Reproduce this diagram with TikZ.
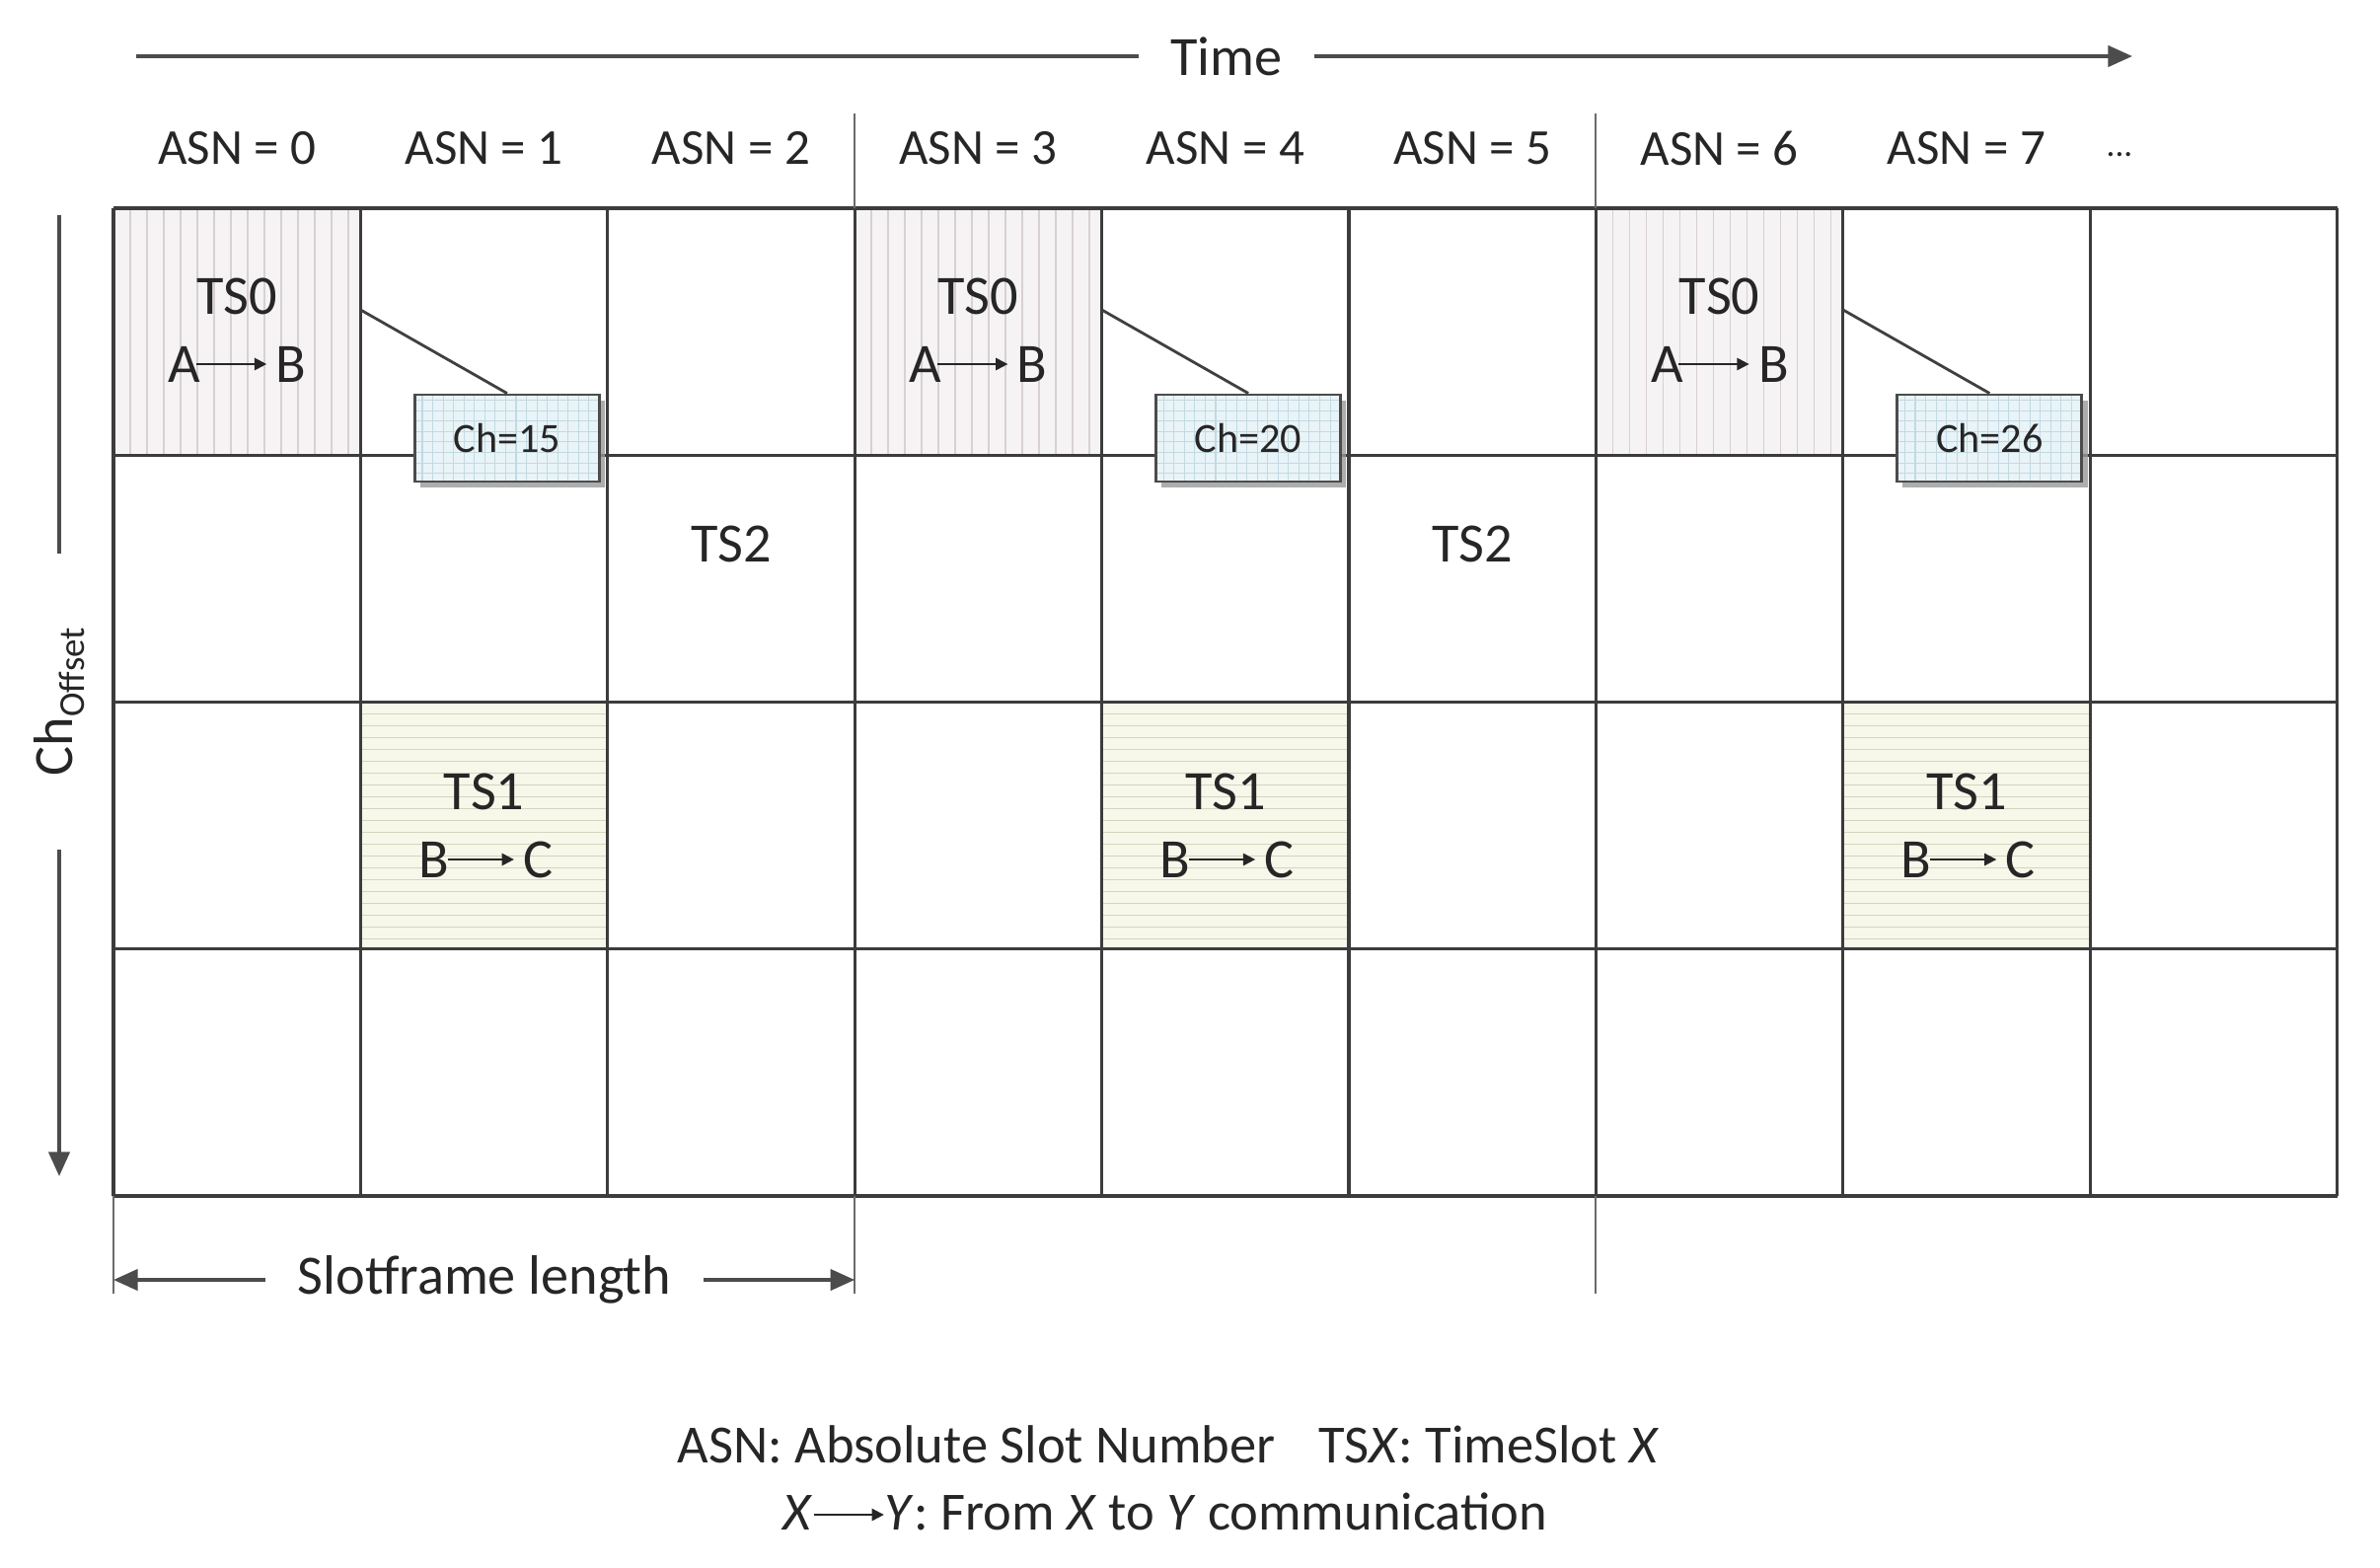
\documentclass[tikz,border=0pt]{standalone}
\usepackage{fontspec}
\setmainfont{Carlito}
\usetikzlibrary{arrows.meta,shadows,calc}
\definecolor{gridcol}{HTML}{3C3C3C}
\definecolor{sepcol}{HTML}{6A6A6A}
\definecolor{tszfill}{HTML}{F6F3F4}
\definecolor{tszline}{HTML}{D8D0D3}
\definecolor{tsofill}{HTML}{F7F7EA}
\definecolor{tsoline}{HTML}{D2D6BE}
\definecolor{chfill}{HTML}{E9F4F8}
\definecolor{chline}{HTML}{C3D9E2}
\newcommand{\legarr}{\tikz[baseline=-0.6ex]\draw[line width=0.6pt,-{Triangle[length=3.5pt,width=3.5pt]}] (0,0) -- (1.3em,0);}
\begin{document}
\begin{tikzpicture}[x=0.01cm,y=-0.01cm,
  gridline/.style={draw=gridcol, line width=0.9pt},
  sepline/.style={draw=sepcol, line width=0.6pt},
  axisline/.style={draw=black!70, line width=1.1pt},
  axisarrow/.style={axisline, -{Triangle[length=7pt,width=6pt]}},
  smallarr/.style={draw=black!85, line width=0.6pt, -{Triangle[length=3.5pt,width=3.5pt]}},
  asnlabel/.style={font=\fontsize{14.5}{17}\selectfont, text=black!85},
  biglabel/.style={font=\fontsize{16}{19}\selectfont, text=black!85},
  letter/.style={biglabel, inner sep=1pt},
  leglabel/.style={font=\fontsize{15.5}{19}\selectfont, text=black!85},
  tszero/.style={fill=tszfill, path picture={
      \foreach \k in {1,...,14}
        \draw[tszline, line width=0.5pt]
          ($(path picture bounding box.north west)+(\k*17,0)$) --
          ($(path picture bounding box.south west)+(\k*17,0)$);}},
  tsone/.style={fill=tsofill, path picture={
      \foreach \k in {1,...,20}
        \draw[tsoline, line width=0.5pt]
          ($(path picture bounding box.north west)+(0,\k*12)$) --
          ($(path picture bounding box.north east)+(0,\k*12)$);}},
  chbox/.style={draw=black!70, line width=0.8pt, fill=chfill,
      minimum width=1.87cm, minimum height=0.88cm, inner sep=0pt,
      font=\fontsize{12}{14}\selectfont, text=black!85,
      drop shadow={shadow xshift=1.6pt, shadow yshift=-1.6pt, fill=black!40, opacity=0.8},
      path picture={\draw[chline, line width=0.3pt, step=3pt]
          (path picture bounding box.south west) grid (path picture bounding box.north east);}},
  callout/.style={draw=black!75, line width=0.8pt}
]
\def\gx{115}\def\gy{211}\def\cw{250.4}\def\rh{250.25}
\useasboundingbox (0,0) rectangle (2412,1589);
\fill[white] (0,0) rectangle (2412,1589);

% shaded cells
\foreach \c in {0,3,6}
  \path[tszero] (\gx+\c*\cw,\gy) rectangle ++(\cw,\rh);
\foreach \c in {1,4,7}
  \path[tsone] (\gx+\c*\cw,\gy+2*\rh) rectangle ++(\cw,\rh);

% grid
\foreach \c in {0,...,9}
  \draw[gridline] (\gx+\c*\cw,\gy) -- (\gx+\c*\cw,\gy+4*\rh);
\foreach \r in {0,...,4}
  \draw[gridline] (\gx,\gy+\r*\rh) -- (\gx+9*\cw,\gy+\r*\rh);

% slotframe separators
\foreach \c in {3,6}
  \draw[sepline] (\gx+\c*\cw,115) -- (\gx+\c*\cw,\gy);
\foreach \c in {0,3,6}
  \draw[sepline] (\gx+\c*\cw,\gy+4*\rh) -- (\gx+\c*\cw,1311);

% time axis
\node[biglabel, inner xsep=9pt] (time) at (1243,57) {Time};
\coordinate (tL) at (138,57);
\coordinate (tR) at (2161,57);
\draw[axisline] (time.west) -- (tL);
\draw[axisarrow] (time.east) -- (tR);

% ASN labels
\foreach \c in {0,...,7}
  \node[asnlabel] (asn\c) at (\gx+\c*\cw+\cw/2,150) {ASN = \c};
\node[asnlabel] (dots) at (2148,150) {\fontsize{10}{12}\selectfont\raisebox{-1.05ex}{...}};

% channel offset axis
\node[biglabel, rotate=90, inner xsep=21pt] (choff) at (60,711)
  {Ch\raisebox{-0.45ex}{\fontsize{10.5}{12}\selectfont Offset}};
\coordinate (oT) at (60,218);
\coordinate (oB) at (60,1192);
\draw[axisline] (choff.east) -- (oT);
\draw[axisarrow] (choff.west) -- (oB);

% TS0 cells
\foreach \c in {0,3,6} {
  \node[biglabel] (tsz\c) at (\gx+\c*\cw+\cw/2,300) {TS0};
  \node[letter] (a\c) at (\gx+\c*\cw+72,369) {A};
  \node[letter] (b\c) at (\gx+\c*\cw+180,369) {B};
  \draw[smallarr, shorten <=-2.5pt, shorten >=1.5pt] (a\c.east) -- (b\c.west);
}
% TS1 cells
\foreach \c in {1,4,7} {
  \node[biglabel] (tso\c) at (\gx+\c*\cw+\cw/2,802) {TS1};
  \node[letter] (bb\c) at (\gx+\c*\cw+74,871) {B};
  \node[letter] (cc\c) at (\gx+\c*\cw+180,871) {C};
  \draw[smallarr, shorten <=-1.5pt, shorten >=1.5pt] (bb\c.east) -- (cc\c.west);
}
% TS2 labels
\foreach \c in {2,5}
  \node[biglabel] (tst\c) at (\gx+\c*\cw+\cw/2,551) {TS2};

% channel callouts
\foreach \c/\v in {1/15,4/20,7/26} {
  \coordinate (cs\c) at (\gx+\c*\cw,314);
  \node[chbox] (ch\c) at (\gx+\c*\cw+148.5,444) {Ch=\v};
  \draw[callout] (cs\c) -- (ch\c.north);
}

% slotframe length
\node[biglabel, inner xsep=9pt] (sf) at (491,1297) {Slotframe length};
\coordinate (sfL) at (\gx,1297);
\coordinate (sfR) at (\gx+3*\cw,1297);
\draw[axisarrow] (sf.west) -- (sfL);
\draw[axisarrow] (sf.east) -- (sfR);

% legend
\node[leglabel] (leg1) at (1184,1464)
  {ASN: Absolute Slot Number\hspace{0.8em}TS\textit{X}: TimeSlot \textit{X}};
\node[leglabel] (leg2) at (1181,1532)
  {\textit{X}\legarr\textit{Y}: From \textit{X} to \textit{Y} communication};
\end{tikzpicture}
\end{document}
